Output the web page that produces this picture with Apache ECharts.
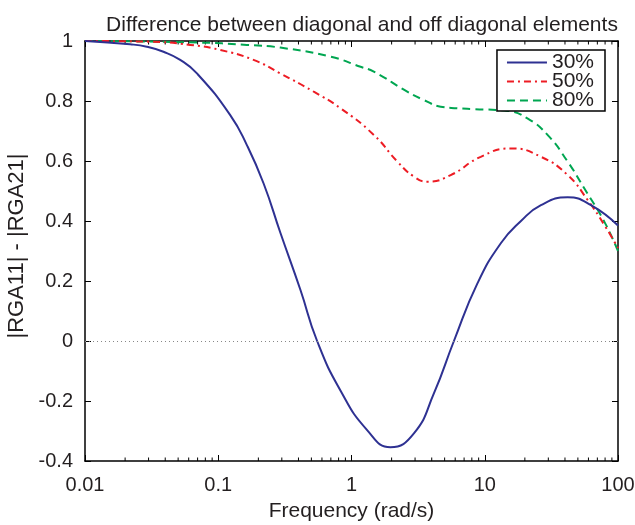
<!DOCTYPE html>
<html>
<head>
<meta charset="utf-8">
<script src="https://cdn.jsdelivr.net/npm/echarts@6/dist/echarts.min.js"></script>
<style>html,body{margin:0;padding:0;background:#fff}#c{width:635px;height:525px}</style>
</head>
<body>
<div id="c"></div>
<script>
// ---- data ----
const freq30 = [0.01, 0.0218, 0.0291, 0.0388, 0.0518, 0.0692, 0.123, 0.164, 0.219, 0.293, 0.414, 0.552, 0.826, 1.31, 1.96, 2.94, 4.16, 5.87, 8.81, 13.2, 18.7, 26.4, 41.9, 62.7, 100];
const val30  = [1.0, 0.989, 0.981, 0.964, 0.937, 0.892, 0.753, 0.653, 0.525, 0.36, 0.17, 0.0, -0.165, -0.297, -0.354, -0.308, -0.174, 0.0, 0.192, 0.326, 0.400, 0.453, 0.479, 0.453, 0.385];
const freq50 = [0.01, 0.0291, 0.0615, 0.1035, 0.184, 0.292, 0.521, 0.826, 1.47, 2.21, 2.94, 3.71, 5.55, 9.33, 15.7, 26.4, 41.9, 59.2, 78.9, 100];
const val50  = [1.0, 0.998, 0.987, 0.97, 0.937, 0.892, 0.831, 0.776, 0.687, 0.598, 0.548, 0.531, 0.553, 0.614, 0.642, 0.614, 0.553, 0.47, 0.387, 0.31];
const freq80 = [0.01, 0.0692, 0.164, 0.292, 0.695, 1.17, 1.47, 2.62, 3.50, 4.67, 6.24, 8.32, 14.8, 20.9, 29.6, 41.9, 55.8, 78.9, 100];
const val80  = [1.0, 0.995, 0.987, 0.978, 0.948, 0.914, 0.898, 0.831, 0.803, 0.781, 0.776, 0.773, 0.767, 0.742, 0.687, 0.598, 0.509, 0.398, 0.30];
const seriesNames = ['30%', '50%', '80%'];
const xTickLabels = ['0.01', '0.1', '1', '10', '100'];
const minorTicks = [];
[0.01, 0.1, 1, 10].forEach(d => { for (let k = 2; k <= 9; k++) minorTicks.push(+(k * d).toPrecision(3)); });

const title = 'Difference between diagonal and off diagonal elements';
const xName = 'Frequency (rad/s)';
const yName = '|RGA11| - |RGA21|';

const pairs = (xs, ys) => xs.map((x, i) => [x, ys[i]]);
const FONT = 'Liberation Sans, Arial, Helvetica, sans-serif';
const TXT = '#231f20';

const chart = echarts.init(document.getElementById('c'), null, {renderer: 'canvas'});

const lineStyleBase = {width: 2};
const option = {
  animation: false,
  backgroundColor: '#fff',
  title: {
    text: title, left: 357, top: 10, textAlign: 'center',
    textStyle: {fontFamily: FONT, fontSize: 21, fontWeight: 'normal', color: TXT}
  },
  legend: {
    data: seriesNames, orient: 'vertical', right: 30, top: 50,
    backgroundColor: '#fff', borderColor: '#000', borderWidth: 1.5, borderRadius: 0,
    padding: [2, 11, 0, 9], itemWidth: 40, itemHeight: 12, itemGap: -2,
    itemStyle: {opacity: 0},
    textStyle: {fontFamily: FONT, fontSize: 21, color: TXT, lineHeight: 17}
  },
  grid: {left: 85, right: 17, top: 41, bottom: 64, containLabel: false, outerBoundsMode: 'none'},
  xAxis: [{
    type: 'log', logBase: 10, min: 0.01, max: 100,
    name: xName, nameLocation: 'middle', nameGap: 40,
    nameTextStyle: {fontFamily: FONT, fontSize: 21, color: TXT},
    axisLine: {show: true, onZero: false, lineStyle: {color: '#000', width: 1.5}},
    axisTick: {show: true, inside: true, length: 6, lineStyle: {color: '#000', width: 1}},
    axisLabel: {fontFamily: FONT, fontSize: 20, color: TXT, margin: 14,
      formatter: v => { const i = Math.round(Math.log10(v)) + 2; return xTickLabels[i] !== undefined ? xTickLabels[i] : ''; }},
    splitLine: {show: false}
  }, {
    type: 'log', logBase: 10, min: 0.01, max: 100, position: 'top',
    axisLine: {show: true, onZero: false, lineStyle: {color: '#000', width: 1.5}},
    axisTick: {show: true, inside: true, length: 6, lineStyle: {color: '#000', width: 1}},
    axisLabel: {show: false}, splitLine: {show: false}
  }],
  yAxis: [{
    type: 'value', min: -0.4, max: 1, interval: 0.2,
    name: yName, nameLocation: 'middle', nameGap: 57, nameRotate: 90,
    nameTextStyle: {fontFamily: FONT, fontSize: 22, color: TXT, padding: [0, 0, 0, 10]},
    axisLine: {show: true, onZero: false, lineStyle: {color: '#000', width: 1.5}},
    axisTick: {show: true, inside: true, length: 6, lineStyle: {color: '#000', width: 1}},
    axisLabel: {fontFamily: FONT, fontSize: 20, color: TXT, margin: 12,
      formatter: v => String(+v.toFixed(1))},
    splitLine: {show: false}
  }, {
    type: 'value', min: -0.4, max: 1, interval: 0.2, position: 'right',
    axisLine: {show: true, onZero: false, lineStyle: {color: '#000', width: 1.5}},
    axisTick: {show: true, inside: true, length: 6, lineStyle: {color: '#000', width: 1}},
    axisLabel: {show: false}, splitLine: {show: false}
  }],
  series: [
    {
      name: '30%', type: 'line', data: pairs(freq30, val30), smooth: 0.5,
      symbol: 'none', showSymbol: false, color: '#2e3192',
      lineStyle: Object.assign({}, lineStyleBase, {color: '#2e3192', type: 'solid'}),
      z: 4,
      markLine: {
        silent: true, symbol: 'none', label: {show: false},
        lineStyle: {color: '#888', type: [1, 3], width: 1},
        data: [{yAxis: 0}]
      }
    },
    {
      name: '50%', type: 'line', data: pairs(freq50, val50), smooth: 0.5,
      symbol: 'none', showSymbol: false, color: '#ed1c24',
      lineStyle: Object.assign({}, lineStyleBase, {color: '#ed1c24', type: [7, 4, 2, 4]}),
      z: 3
    },
    {
      name: '80%', type: 'line', data: pairs(freq80, val80), smooth: 0.5,
      symbol: 'none', showSymbol: false, color: '#00a651',
      lineStyle: Object.assign({}, lineStyleBase, {color: '#00a651', type: [8, 5]}),
      z: 2
    },
    {
      type: 'custom', silent: true, data: minorTicks.map(f => [f]),
      encode: {x: 0},
      renderItem: (params, api) => {
        const f = api.value(0);
        const b = api.coord([f, -0.4]);
        const t = api.coord([f, 1]);
        return {type: 'group', children: [
          {type: 'line', shape: {x1: b[0], y1: b[1], x2: b[0], y2: b[1] - 3.5}, style: {stroke: '#000', lineWidth: 1}},
          {type: 'line', shape: {x1: t[0], y1: t[1], x2: t[0], y2: t[1] + 3.5}, style: {stroke: '#000', lineWidth: 1}}
        ]};
      },
      z: 1
    }
  ]
};
chart.setOption(option);
</script>
</body>
</html>
